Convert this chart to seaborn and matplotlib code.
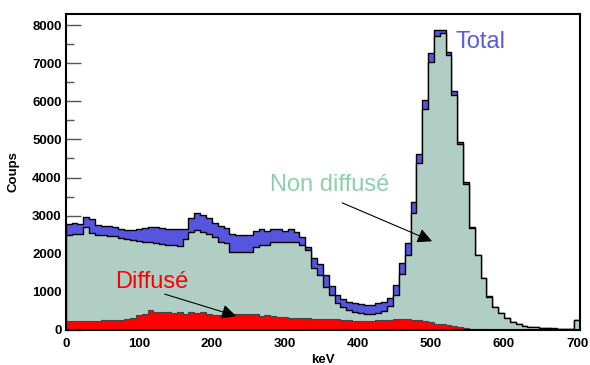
import numpy as np
import pandas as pd
import seaborn as sns
import matplotlib.pyplot as plt
from matplotlib.ticker import MultipleLocator

# 88 bins of 8 keV, 0 -> 704 keV
bin_edges = np.arange(0, 705, 8)
bin_centers = bin_edges[:-1] + 4

# Total (top of blue band)
total = [2770, 2810, 2790, 2970, 2920, 2750, 2740, 2730, 2700, 2640,
         2620, 2630, 2660, 2680, 2700, 2710, 2680, 2650, 2640, 2640,
         2660, 2950, 3060, 3010, 2930, 2800, 2730, 2670, 2510, 2490,
         2490, 2500, 2600, 2640, 2610, 2640, 2640, 2610, 2640, 2580,
         2450, 2190, 1880, 1720, 1440, 1150, 920, 810, 740, 700,
         670, 655, 655, 700, 745, 840, 1180, 1760, 2270, 3350,
         4610, 6030, 7260, 7880, 7880, 7300, 6270, 4940, 3870, 2700,
         1970, 1370, 880, 595, 440, 305, 220, 157, 114, 87,
         70, 50, 45, 40, 30, 27, 25, 260]

# Non diffuse (top of green area)
non_diffuse = [2500, 2510, 2530, 2710, 2540, 2500, 2490, 2470, 2460, 2420,
               2380, 2370, 2330, 2320, 2300, 2280, 2260, 2240, 2220, 2215,
               2400, 2580, 2620, 2580, 2510, 2450, 2300, 2290, 2040, 2035,
               2040, 2040, 2190, 2230, 2230, 2310, 2320, 2320, 2320, 2310,
               2230, 2100, 1620, 1440, 1140, 920, 700, 595, 525, 480,
               440, 420, 420, 455, 505, 630, 920, 1470, 1970, 3080,
               4370, 5810, 7040, 7720, 7800, 7215, 6165, 4880, 3820, 2680,
               1960, 1365, 878, 593, 438, 304, 219, 156, 113, 86,
               69, 49, 44, 39, 29, 26, 24, 258]

# Diffuse (red)
diffuse = [240, 240, 235, 245, 240, 245, 255, 260, 265, 270,
           300, 320, 390, 410, 530, 480, 465, 460, 455, 460,
           425, 465, 455, 460, 420, 400, 395, 405, 415, 420,
           418, 415, 410, 380, 385, 355, 350, 345, 315, 310,
           305, 310, 300, 300, 285, 280, 285, 275, 270, 245,
           240, 235, 245, 250, 265, 268, 285, 290, 280, 265,
           260, 225, 215, 165, 150, 130, 95, 70, 55, 30,
           25, 20, 15, 10, 8, 6, 5, 4, 3, 3,
           2, 2, 2, 1, 1, 1, 1, 1]

df = pd.DataFrame({'keV': bin_centers, 'total': total,
                   'non_diffuse': non_diffuse, 'diffuse': diffuse})

plt.rcParams['font.family'] = ['Liberation Sans', 'DejaVu Sans']

fig = plt.figure(figsize=(5.9, 3.65), dpi=100)
ax = fig.add_axes([0.1114, 0.0959, 0.8716, 0.8657])

hist_kw = dict(data=df, x='keV', binwidth=8, binrange=(0, 704), element='step',
               fill=True, alpha=1, ax=ax)
sns.histplot(weights='total', color='#5555dd', edgecolor='black', linewidth=1, **hist_kw)
sns.histplot(weights='non_diffuse', color='#b0cec4', edgecolor='black', linewidth=1, **hist_kw)
sns.histplot(weights='diffuse', color='#ff0000', edgecolor='#444444', linewidth=0.8, **hist_kw)

ax.set_xlim(0, 704)
ax.set_ylim(0, 8290)
ax.set_axisbelow(True)

ax.xaxis.set_major_locator(MultipleLocator(100))
ax.yaxis.set_major_locator(MultipleLocator(1000))
ax.yaxis.set_minor_locator(MultipleLocator(500))
ax.tick_params(axis='y', which='major', direction='in', length=11, width=1,
               color='#555555', pad=3, labelsize=9.5)
ax.tick_params(axis='y', which='minor', direction='in', length=5.5, width=1,
               color='#555555')
ax.tick_params(axis='x', which='both', length=0, pad=6, labelsize=9.5)
for lab in ax.get_xticklabels() + ax.get_yticklabels():
    lab.set_fontweight('bold')

for s in ax.spines.values():
    s.set_linewidth(1.5)
    s.set_color('black')

ax.set_xlabel('keV', fontsize=9.5, fontweight='bold', labelpad=3)
ax.set_ylabel('Coups', fontsize=9.5, fontweight='bold')
ax.yaxis.set_label_coords(-0.089, 0.5)

# labels and arrows
ax.text(533, 7555, 'Total', color='#5b5bdb', fontsize=17, va='center', ha='left')
ax.text(361, 3800, 'Non diffusé', color='#8ccfac', fontsize=17, va='center', ha='center')
ax.text(118, 1270, 'Diffusé', color='#ff0000', fontsize=17, va='center', ha='center')

ax.annotate('', xy=(505, 2300), xytext=(375, 3365),
            arrowprops=dict(arrowstyle='-|>', color='black', lw=0.8, mutation_scale=22))
ax.annotate('', xy=(237, 345), xytext=(132, 962),
            arrowprops=dict(arrowstyle='-|>', color='black', lw=0.8, mutation_scale=22))

fig.savefig('out.png', dpi=100)
